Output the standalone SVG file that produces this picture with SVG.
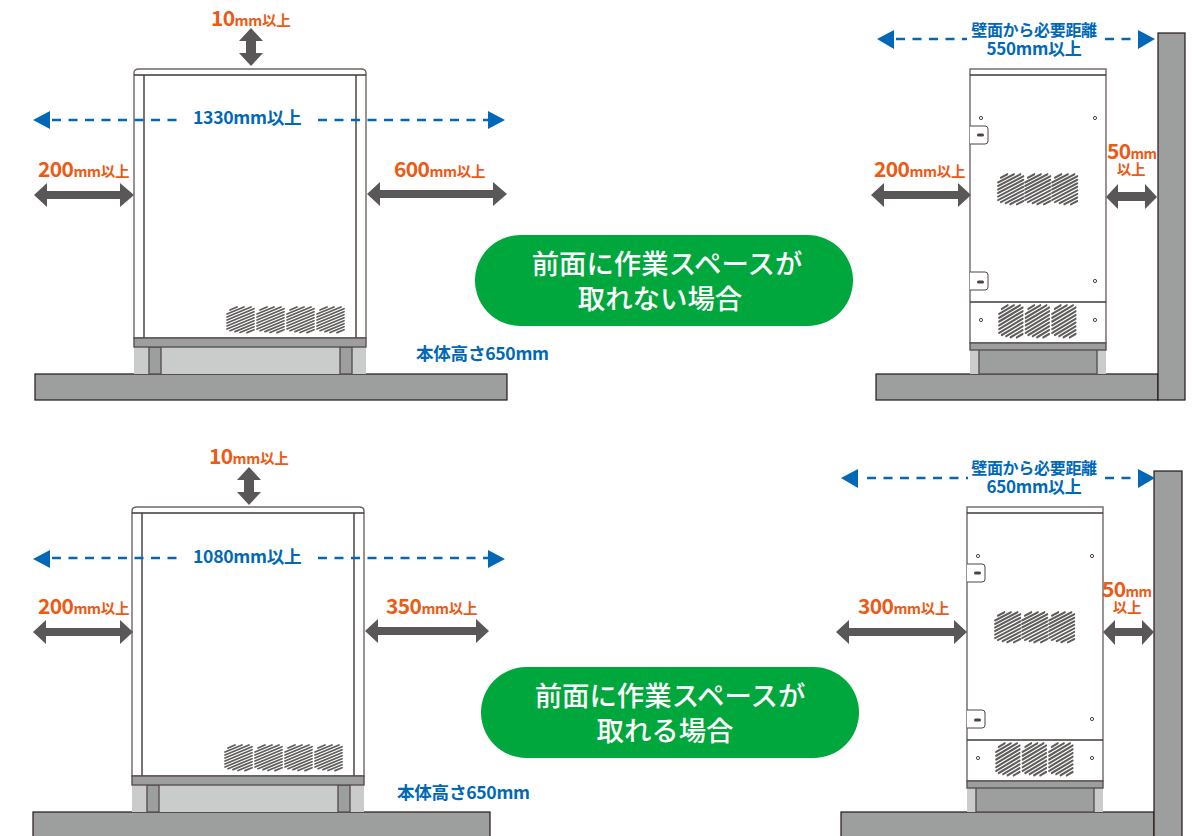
<svg xmlns="http://www.w3.org/2000/svg" width="1192" height="836" viewBox="0 0 1192 836">
<style>
text{font-family:"Noto Sans CJK JP","Noto Sans",sans-serif;font-weight:700}
.o{fill:#ec5a13;font-size:21px;letter-spacing:-.6px}
.o .t{font-size:14.5px;letter-spacing:-.3px}
.o .n{font-size:14px;letter-spacing:-.5px}
.b{fill:#0068b7;font-size:17.6px;letter-spacing:-.3px}
.b .j{font-size:16px;letter-spacing:-.3px}
.b .c{font-size:17px}
.w{fill:#fff;font-size:27.4px;font-weight:500;text-anchor:middle}
.g{fill:#9d9f9e;stroke:#231815;stroke-width:1.2}
.l{fill:#cacccb}
.m{fill:#9d9f9e;stroke:#5a5050;stroke-width:1.4}
.u{fill:#fff;stroke:#6f6663;stroke-width:1.4}
.k{fill:none;stroke:#3e3a39;stroke-width:1.4}
.s{fill:#fff;stroke:#4a4543;stroke-width:1}
.d{stroke:#0068b7;stroke-width:2.6;stroke-dasharray:9 7.5;fill:none}
.a{fill:#0068b7}
.p{fill:#595757}
.pill{fill:#00a73c}
.hl{fill:none;stroke:#5f5c5b;stroke-width:1.75;stroke-linecap:round}
</style>
<defs>
<path id="hf" class="hl" d="M3 4 10 1M0 8 17 1M0 11 24 1M0 14 27 2.7M0 17 27 5.7M0 20 27 8.7M0 23 27 11.7M3 24.7 27 14.7M8 25.6 27 17.7M13 26.5 27 20.7M20 26.6 27 23.7"/>
<g id="front">
<rect class="l" x="134" y="347" width="232" height="27"/>
<rect class="m" x="149" y="347" width="12" height="27"/>
<rect class="m" x="340" y="347" width="12" height="27"/>
<path class="u" d="M134 338V73Q134 69 139 69H361Q366 69 366 73V338Z"/>
<path class="k" d="M134 75H366M144 75V338M356 75V338"/>
<rect class="m" x="134" y="338" width="232" height="9"/>
<use href="#hf" x="227" y="306"/><use href="#hf" x="257" y="306"/><use href="#hf" x="287" y="306"/><use href="#hf" x="317" y="306"/>
</g>
<g id="side">
<rect class="l" x="970" y="349" width="136" height="25"/>
<rect class="m" x="979" y="349" width="118" height="25"/>
<rect class="u" x="970" y="69" width="136" height="274"/>
<path class="k" d="M970 75H1106M970 302H1106"/>
<rect class="m" x="970" y="343" width="136" height="7"/>
<path class="s" d="M970 126H985Q988 126 988 129V141Q988 144 985 144H970M970 272H985Q988 272 988 275V287Q988 290 985 290H970"/>
<rect x="977" y="133.5" width="7" height="3" rx="1.5" fill="#4a4543"/><rect x="977" y="280.5" width="7" height="3" rx="1.5" fill="#4a4543"/>
<g class="s"><circle cx="981" cy="118" r="1.6"/><circle cx="1095" cy="118" r="1.6"/><circle cx="1095" cy="281" r="1.6"/><circle cx="981" cy="320" r="1.6"/><circle cx="1095" cy="320" r="1.6"/></g>
<use href="#hf" transform="translate(998 173) scale(.94 1.18)"/><use href="#hf" transform="translate(1025 173) scale(.94 1.18)"/><use href="#hf" transform="translate(1052 173) scale(.94 1.18)"/>
<use href="#hf" transform="translate(999 304) scale(.88 1.26)"/><use href="#hf" transform="translate(1025.5 304) scale(.88 1.26)"/><use href="#hf" transform="translate(1052 304) scale(.88 1.26)"/>
</g>
<path id="av" class="p" d="M0 -19 12 -6H5V6H12L0 19 -12 6H-5V-6H-12Z"/>
</defs>

<g id="unit-front-top"><rect class="g" x="35" y="374" width="472" height="26"/><use href="#front"/></g>
<g id="unit-side-top"><rect class="g" x="876" y="374" width="282" height="26"/><use href="#side"/><rect class="g" x="1158" y="33" width="27" height="367"/></g>
<g id="unit-front-bottom"><rect class="g" x="33" y="812" width="457" height="30"/><use href="#front" x="-2" y="438"/></g>
<g id="unit-side-bottom"><rect class="g" x="841" y="812" width="313" height="30"/><use href="#side" x="-3" y="438"/><rect class="g" x="1154" y="471" width="28" height="370"/></g>

<g id="connectors">
<path class="d" d="M52 120H180M318 120H488"/>
<path class="a" d="M33 120 50 111V129ZM505 120 488 111V129Z"/>
<path class="d" d="M896 39H967M1105 39H1138"/>
<path class="a" d="M877 39 894 30V49ZM1155 39 1138 30V49Z"/>
<path class="d" d="M52 558H180M318 558H488"/>
<path class="a" d="M33 559 50 550V568ZM505 559 488 550V568Z"/>
<path class="d" d="M867 478H968M1105 478H1138"/>
<path class="a" d="M841 478 858 469V488ZM1155 478 1138 469V488Z"/>
<use href="#av" x="251" y="47"/>
<use href="#av" x="249" y="486"/>
<path class="p" d="M34 195 47 183V191H120V183L134 195 120 207V199H47V207Z"/>
<path class="p" d="M367 194 380 182V190H493V182L507 194 493 206V198H380V206Z"/>
<path class="p" d="M871 195 884 183V191H958V183L971 195 958 207V199H884V207Z"/>
<path class="p" d="M1106 197 1118 184V192H1145V184L1157 197 1145 209V201H1118V209Z"/>
<path class="p" d="M33 632 46 620V628H120V620L133 632 120 644V636H46V644Z"/>
<path class="p" d="M365 631 378 619V627H476V619L489 631 476 643V635H378V643Z"/>
<path class="p" d="M836 632 849 620V628H954V620L967 632 954 644V636H849V644Z"/>
<path class="p" d="M1103 632 1115 620V628H1142V620L1154 632 1142 645V636H1115V645Z"/>
</g>

<g id="labels">
<text class="o" x="211" y="26">10<tspan class="t">mm以上</tspan></text>
<text class="o" x="38" y="177">200<tspan class="t">mm以上</tspan></text>
<text class="o" x="394" y="177">600<tspan class="t">mm以上</tspan></text>
<text class="b" x="193" y="124">1330mm以上</text>
<text class="b" x="416" y="360">本体高さ650mm</text>
<text class="b" text-anchor="middle"><tspan class="j" x="1034" y="36">壁面から必要距離</tspan><tspan class="c" x="1034" y="55">550mm以上</tspan></text>
<text class="o" x="874" y="177">200<tspan class="t">mm以上</tspan></text>
<text class="o"><tspan x="1107" y="159">50</tspan><tspan class="n">mm</tspan><tspan class="t" x="1131" y="175" text-anchor="middle">以上</tspan></text>
<text class="o" x="209" y="464">10<tspan class="t">mm以上</tspan></text>
<text class="o" x="38" y="614">200<tspan class="t">mm以上</tspan></text>
<text class="o" x="386" y="614">350<tspan class="t">mm以上</tspan></text>
<text class="b" x="193" y="563">1080mm以上</text>
<text class="b" x="397" y="799">本体高さ650mm</text>
<text class="b" text-anchor="middle"><tspan class="j" x="1034" y="474">壁面から必要距離</tspan><tspan class="c" x="1034" y="493">650mm以上</tspan></text>
<text class="o" x="858" y="614">300<tspan class="t">mm以上</tspan></text>
<text class="o"><tspan x="1102" y="597">50</tspan><tspan class="n">mm</tspan><tspan class="t" x="1127" y="613" text-anchor="middle">以上</tspan></text>
</g>

<g id="badge-top"><rect class="pill" x="475" y="235" width="378" height="91" rx="45.5"/><text class="w" x="667" y="274">前面に作業スペースが</text><text class="w" x="660" y="309">取れない場合</text></g>
<g id="badge-bottom"><rect class="pill" x="481" y="667" width="378" height="91" rx="45.5"/><text class="w" x="670" y="706">前面に作業スペースが</text><text class="w" x="665" y="741">取れる場合</text></g>
</svg>
